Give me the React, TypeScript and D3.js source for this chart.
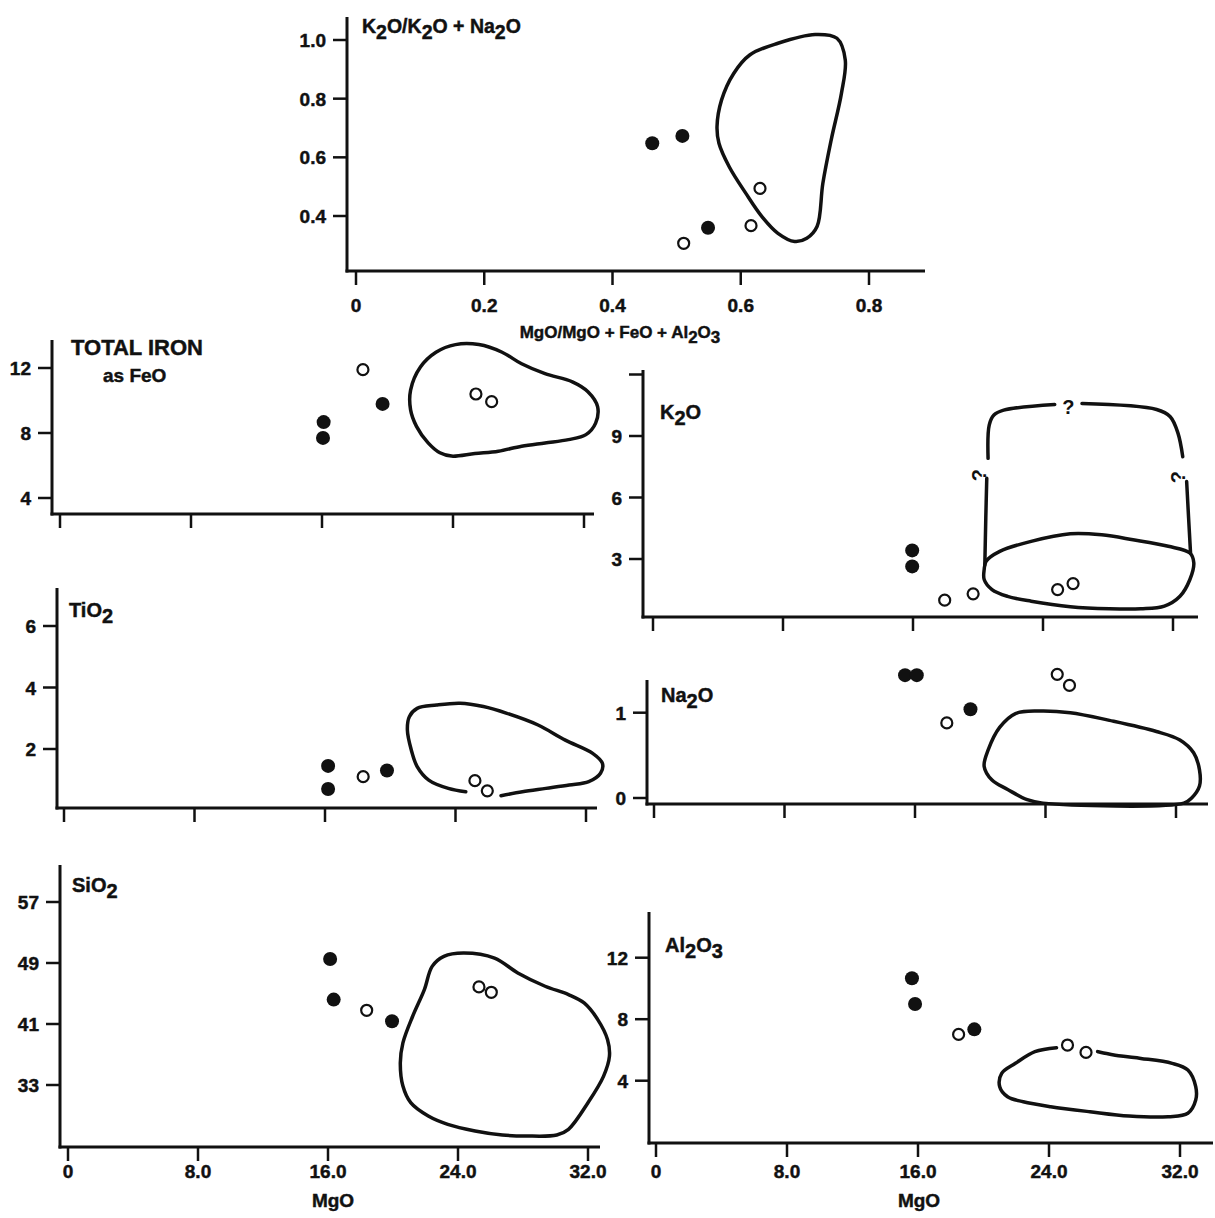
import React from 'react';
import * as d3 from 'd3';

type Pt = [number, number];

// ---------- Data ----------
// Top panel: MgO/(MgO+FeO+Al2O3) vs K2O/(K2O+Na2O)
const ratioXTicks = [0, 0.2, 0.4, 0.6, 0.8];
const ratioXTickLabels = ['0', '0.2', '0.4', '0.6', '0.8'];
const ratioYTicks = [0.4, 0.6, 0.8, 1.0];
const ratioYTickLabels = ['0.4', '0.6', '0.8', '1.0'];
const ratioFilled: Pt[] = [[0.462, 0.648], [0.509, 0.673], [0.549, 0.36]];
const ratioOpen: Pt[] = [[0.511, 0.307], [0.616, 0.367], [0.63, 0.494]];
const ratioEnvelope: Pt[] = [
  [0.563, 0.705], [0.57, 0.795], [0.589, 0.886], [0.614, 0.949], [0.658, 0.989],
  [0.716, 1.019], [0.75, 1.006], [0.763, 0.932], [0.757, 0.818], [0.741, 0.659],
  [0.728, 0.511], [0.719, 0.364], [0.703, 0.324], [0.684, 0.313], [0.658, 0.341],
  [0.633, 0.398], [0.608, 0.477], [0.582, 0.568], [0.566, 0.648],
];

// MgO axis shared by the six lower panels
const mgoTicks = [0, 8, 16, 24, 32];
const mgoTickLabels = ['0', '8.0', '16.0', '24.0', '32.0'];

// Total iron as FeO
const feoYTicks = [4, 8, 12];
const feoYTickLabels = ['4', '8', '12'];
const feoFilled: Pt[] = [[16.1, 8.67], [16.06, 7.7], [19.7, 9.79]];
const feoOpen: Pt[] = [[18.5, 11.9], [25.4, 10.4], [26.36, 9.93]];
const feoEnvelope: Pt[] = [
  [21.41, 10.64], [22.01, 12.06], [22.96, 12.97], [24.15, 13.44], [25.58, 13.44],
  [27.0, 12.97], [28.19, 12.26], [29.62, 11.65], [31.29, 11.15], [32.24, 10.54],
  [32.83, 9.62], [32.71, 8.61], [32.12, 7.9], [31.05, 7.59], [29.62, 7.39],
  [28.19, 7.19], [26.77, 6.88], [25.34, 6.74], [23.91, 6.58], [23.2, 6.78],
  [22.48, 7.39], [21.77, 8.41], [21.41, 9.42],
];

// K2O
const k2oYTicks = [3, 6, 9, 12];
const k2oYTickLabels = ['3', '6', '9', ''];
const k2oFilled: Pt[] = [[15.95, 3.42], [15.95, 2.64]];
const k2oOpen: Pt[] = [[17.95, 0.99], [19.7, 1.3], [24.9, 1.51], [25.85, 1.8]];
const k2oEnvelope: Pt[] = [
  [20.5, 2.89], [21.34, 3.37], [23.27, 3.86], [25.68, 4.23], [27.61, 4.18],
  [29.54, 3.94], [31.71, 3.62], [33.04, 3.29], [33.28, 2.81], [33.04, 2.0],
  [32.43, 1.18], [31.47, 0.7], [30.02, 0.57], [28.09, 0.57], [25.68, 0.67],
  [23.27, 0.94], [21.82, 1.18], [20.86, 1.51], [20.38, 2.0], [20.38, 2.48],
];
const k2oBracketLeftLow: Pt[] = [[20.42, 2.7], [20.48, 5.0], [20.54, 6.94]];
const k2oBracketLeftTop: Pt[] = [[20.62, 7.91], [20.69, 9.53], [20.98, 10.02], [21.58, 10.26], [24.72, 10.54]];
const k2oBracketRightTop: Pt[] = [[26.4, 10.58], [30.99, 10.29], [31.83, 9.94], [32.31, 9.13], [32.6, 7.99]];
const k2oBracketRightLow: Pt[] = [[32.84, 6.78], [32.96, 5.0], [33.08, 3.29]];
const k2oQueryTop: Pt = [25.56, 10.42];
const k2oQueryLeft: Pt = [20.5, 7.43];
const k2oQueryRight: Pt = [32.72, 7.34];

// TiO2
const tio2YTicks = [2, 4, 6];
const tio2YTickLabels = ['2', '4', '6'];
const tio2Filled: Pt[] = [[16.19, 1.45], [16.19, 0.7], [19.8, 1.3]];
const tio2Open: Pt[] = [[18.34, 1.1], [25.19, 0.97], [25.95, 0.64]];
const tio2Envelope: Pt[] = [
  [24.63, 0.61], [23.56, 0.72], [22.36, 0.99], [21.65, 1.43], [21.29, 1.97],
  [21.05, 2.62], [21.17, 3.05], [21.65, 3.32], [22.84, 3.43], [24.28, 3.49],
  [25.71, 3.38], [27.15, 3.16], [29.06, 2.78], [30.73, 2.29], [32.41, 1.86],
  [33.01, 1.53], [32.89, 1.21], [32.17, 0.94], [30.97, 0.83], [29.54, 0.72],
  [28.1, 0.61], [26.79, 0.48],
];

// Na2O
const na2oYTicks = [0, 1];
const na2oYTickLabels = ['0', '1'];
const na2oFilled: Pt[] = [[15.39, 1.44], [16.11, 1.44], [19.4, 1.04]];
const na2oOpen: Pt[] = [[17.95, 0.88], [24.72, 1.45], [25.47, 1.32]];
const na2oEnvelope: Pt[] = [
  [20.24, 0.37], [20.48, 0.56], [21.2, 0.83], [22.16, 0.99], [23.6, 1.02],
  [25.52, 1.0], [27.92, 0.91], [30.8, 0.78], [32.24, 0.68], [33.08, 0.53],
  [33.44, 0.33], [33.44, 0.14], [32.96, 0.0], [32.48, -0.06], [23.84, -0.06],
  [22.88, -0.02], [21.68, 0.1], [20.72, 0.21],
];

// SiO2
const sio2YTicks = [33, 41, 49, 57];
const sio2YTickLabels = ['33', '41', '49', '57'];
const sio2Filled: Pt[] = [[16.13, 49.52], [16.35, 44.2], [19.94, 41.36]];
const sio2Open: Pt[] = [[18.38, 42.8], [25.29, 45.86], [26.05, 45.16]];
const sio2Envelope: Pt[] = [
  [20.61, 38.53], [21.21, 42.02], [21.93, 45.51], [22.41, 48.56], [23.13, 49.87],
  [24.33, 50.31], [26.25, 49.65], [27.68, 47.69], [29.36, 45.95], [30.8, 44.86],
  [31.76, 43.76], [32.6, 41.58], [33.2, 38.97], [33.32, 36.78], [32.96, 34.17],
  [32.0, 30.68], [30.8, 27.19], [30.08, 26.44], [28.16, 26.31], [26.73, 26.44],
  [25.05, 26.97], [23.37, 27.84], [22.17, 28.93], [21.09, 30.68], [20.61, 32.86],
  [20.45, 35.91],
];

// Al2O3
const al2o3YTicks = [4, 8, 12];
const al2o3YTickLabels = ['4', '8', '12'];
const al2o3Filled: Pt[] = [[15.63, 10.66], [15.82, 8.99], [19.44, 7.34]];
const al2o3Open: Pt[] = [[18.48, 7.01], [25.13, 6.32], [26.26, 5.84]];
const al2o3Envelope: Pt[] = [
  [24.46, 6.15], [23.14, 5.89], [21.95, 5.13], [21.11, 4.48], [20.99, 3.61],
  [21.47, 2.96], [22.43, 2.63], [24.1, 2.31], [26.5, 1.98], [28.89, 1.7],
  [31.28, 1.66], [32.48, 1.88], [32.96, 2.74], [32.96, 3.61], [32.48, 4.69],
  [31.52, 5.13], [29.61, 5.45], [28.41, 5.6], [26.97, 5.89],
];

// ---------- Layout ----------
const FONT = '"Liberation Sans", Arial, sans-serif';
const INK = '#111';

interface Curve { pts: Pt[]; closed: boolean; }
interface Query { at: Pt; rotate: number; }
interface Panel {
  key: string;
  xDomain: [number, number]; xRange: [number, number];
  yDomain: [number, number]; yRange: [number, number];
  axisX: number; axisTop: number; axisY: number; axisRight: number;
  xTicks: number[]; xTickLabels?: string[]; xLabelY?: number;
  yTicks: number[]; yTickLabels: string[];
  title: string; titleX: number; titleY: number; titleSize: number;
  subtitle?: string; subX?: number; subY?: number;
  xTitle?: string; xTitleX?: number; xTitleY?: number; xTitleSize?: number;
  filled: Pt[]; open: Pt[];
  curves: Curve[]; queries?: Query[];
}

const panels: Panel[] = [
  {
    key: 'ratio', xDomain: [0, 0.8], xRange: [356, 869], yDomain: [0.4, 1.0], yRange: [216, 40],
    axisX: 347, axisTop: 17, axisY: 271, axisRight: 925,
    xTicks: ratioXTicks, xTickLabels: ratioXTickLabels, xLabelY: 312,
    yTicks: ratioYTicks, yTickLabels: ratioYTickLabels,
    title: 'K_2O/K_2O + Na_2O', titleX: 362, titleY: 33, titleSize: 19.5,
    xTitle: 'MgO/MgO + FeO + Al_2O_3', xTitleX: 620, xTitleY: 338, xTitleSize: 17,
    filled: ratioFilled, open: ratioOpen, curves: [{ pts: ratioEnvelope, closed: true }],
  },
  {
    key: 'feo', xDomain: [0, 32], xRange: [60, 584], yDomain: [4, 12], yRange: [498, 368],
    axisX: 52, axisTop: 340, axisY: 514, axisRight: 594,
    xTicks: mgoTicks, yTicks: feoYTicks, yTickLabels: feoYTickLabels,
    title: 'TOTAL IRON', titleX: 71, titleY: 355, titleSize: 22,
    subtitle: 'as FeO', subX: 103, subY: 382,
    filled: feoFilled, open: feoOpen, curves: [{ pts: feoEnvelope, closed: true }],
  },
  {
    key: 'k2o', xDomain: [0, 32], xRange: [653, 1173], yDomain: [3, 9], yRange: [559, 436],
    axisX: 643, axisTop: 370, axisY: 617, axisRight: 1198,
    xTicks: mgoTicks, yTicks: k2oYTicks, yTickLabels: k2oYTickLabels,
    title: 'K_2O', titleX: 660, titleY: 419, titleSize: 20,
    filled: k2oFilled, open: k2oOpen,
    curves: [
      { pts: k2oEnvelope, closed: true },
      { pts: k2oBracketLeftLow, closed: false },
      { pts: k2oBracketLeftTop, closed: false },
      { pts: k2oBracketRightTop, closed: false },
      { pts: k2oBracketRightLow, closed: false },
    ],
    queries: [
      { at: k2oQueryTop, rotate: 0 },
      { at: k2oQueryLeft, rotate: -90 },
      { at: k2oQueryRight, rotate: -90 },
    ],
  },
  {
    key: 'tio2', xDomain: [0, 32], xRange: [64, 586], yDomain: [2, 6], yRange: [749, 626],
    axisX: 57, axisTop: 588, axisY: 808, axisRight: 597,
    xTicks: mgoTicks, yTicks: tio2YTicks, yTickLabels: tio2YTickLabels,
    title: 'TiO_2', titleX: 69, titleY: 617, titleSize: 20,
    filled: tio2Filled, open: tio2Open, curves: [{ pts: tio2Envelope, closed: false }],
  },
  {
    key: 'na2o', xDomain: [0, 32], xRange: [654, 1176], yDomain: [0, 1], yRange: [798, 712.7],
    axisX: 647, axisTop: 680, axisY: 804, axisRight: 1208,
    xTicks: mgoTicks, yTicks: na2oYTicks, yTickLabels: na2oYTickLabels,
    title: 'Na_2O', titleX: 661, titleY: 702, titleSize: 20,
    filled: na2oFilled, open: na2oOpen, curves: [{ pts: na2oEnvelope, closed: true }],
  },
  {
    key: 'sio2', xDomain: [0, 32], xRange: [68, 588], yDomain: [33, 57], yRange: [1085, 902],
    axisX: 60, axisTop: 865, axisY: 1147, axisRight: 600,
    xTicks: mgoTicks, xTickLabels: mgoTickLabels, xLabelY: 1178,
    yTicks: sio2YTicks, yTickLabels: sio2YTickLabels,
    title: 'SiO_2', titleX: 72, titleY: 892, titleSize: 20,
    xTitle: 'MgO', xTitleX: 333, xTitleY: 1207, xTitleSize: 19,
    filled: sio2Filled, open: sio2Open, curves: [{ pts: sio2Envelope, closed: true }],
  },
  {
    key: 'al2o3', xDomain: [0, 32], xRange: [656, 1180], yDomain: [4, 12], yRange: [1080.7, 957.7],
    axisX: 649, axisTop: 912, axisY: 1143, axisRight: 1213,
    xTicks: mgoTicks, xTickLabels: mgoTickLabels, xLabelY: 1178,
    yTicks: al2o3YTicks, yTickLabels: al2o3YTickLabels,
    title: 'Al_2O_3', titleX: 665, titleY: 952, titleSize: 20,
    xTitle: 'MgO', xTitleX: 919, xTitleY: 1207, xTitleSize: 19,
    filled: al2o3Filled, open: al2o3Open, curves: [{ pts: al2o3Envelope, closed: false }],
  },
];

// ---------- Components ----------
const textStyle = { stroke: INK, strokeWidth: 0.45, paintOrder: 'stroke' as const };

function ChemText(props: { x: number; y: number; s: string; size: number; anchor?: string }) {
  const { x, y, s, size, anchor } = props;
  const parts = s.split(/(_\d)/).filter((p) => p.length > 0).map((p) =>
    p.startsWith('_') ? { t: p.slice(1), sub: true } : { t: p, sub: false });
  const shift = Math.round(size * 0.32);
  let cur = 0;
  return (
    <text x={x} y={y} fontSize={size} fontFamily={FONT} fontWeight="bold"
      textAnchor={anchor || 'start'} fill={INK} style={textStyle}>
      {parts.map((p, i) => {
        const target = p.sub ? shift : 0;
        const dy = target - cur;
        cur = target;
        return <tspan key={i} dy={dy}>{p.t}</tspan>;
      })}
    </text>
  );
}

function PanelView({ p }: { p: Panel }) {
  const xs = d3.scaleLinear().domain(p.xDomain).range(p.xRange);
  const ys = d3.scaleLinear().domain(p.yDomain).range(p.yRange);
  const closedLine = d3.line<Pt>().x((d) => xs(d[0])).y((d) => ys(d[1])).curve(d3.curveCatmullRomClosed.alpha(0.5));
  const openLine = d3.line<Pt>().x((d) => xs(d[0])).y((d) => ys(d[1])).curve(d3.curveCatmullRom.alpha(0.5));
  const tickLen = 14;
  return (
    <g>
      {/* axes */}
      <line x1={p.axisX} x2={p.axisX} y1={p.axisTop} y2={p.axisY + 1.5} stroke={INK} strokeWidth={3} />
      <line x1={p.axisX - 1.5} x2={p.axisRight} y1={p.axisY} y2={p.axisY} stroke={INK} strokeWidth={3} />
      {p.xTicks.map((t) => (
        <line key={'xt' + t} x1={xs(t)} x2={xs(t)} y1={p.axisY} y2={p.axisY + tickLen} stroke={INK} strokeWidth={2.5} />
      ))}
      {p.yTicks.map((t) => (
        <line key={'yt' + t} x1={p.axisX - tickLen} x2={p.axisX} y1={ys(t)} y2={ys(t)} stroke={INK} strokeWidth={2.5} />
      ))}
      {p.yTicks.map((t, i) => (
        <text key={'yl' + t} x={p.axisX - 21} y={ys(t) + 7} fontSize={19} fontFamily={FONT}
          fontWeight="bold" textAnchor="end" fill={INK} style={textStyle}>{p.yTickLabels[i]}</text>
      ))}
      {p.xTickLabels && p.xTicks.map((t, i) => (
        <text key={'xl' + t} x={xs(t)} y={p.xLabelY} fontSize={19} fontFamily={FONT}
          fontWeight="bold" textAnchor="middle" fill={INK} style={textStyle}>{p.xTickLabels![i]}</text>
      ))}
      <ChemText x={p.titleX} y={p.titleY} s={p.title} size={p.titleSize} />
      {p.subtitle && (
        <text x={p.subX} y={p.subY} fontSize={19} fontFamily={FONT} fontWeight="bold" fill={INK}
          style={textStyle}>{p.subtitle}</text>
      )}
      {p.xTitle && (
        <ChemText x={p.xTitleX!} y={p.xTitleY!} s={p.xTitle} size={p.xTitleSize!} anchor="middle" />
      )}
      {/* envelopes */}
      {p.curves.map((c, i) => (
        <path key={'c' + i} d={(c.closed ? closedLine : openLine)(c.pts) || ''} fill="none"
          stroke={INK} strokeWidth={3.5} strokeLinejoin="round" strokeLinecap="round" />
      ))}
      {p.queries && p.queries.map((q, i) => (
        <text key={'q' + i} x={0} y={0} fontSize={20} fontFamily={FONT} fontWeight="bold"
          textAnchor="middle" fill={INK}
          transform={`translate(${xs(q.at[0])},${ys(q.at[1]) + 7}) rotate(${q.rotate})`}>?</text>
      ))}
      {/* samples */}
      {p.filled.map((d, i) => (
        <circle key={'f' + i} cx={xs(d[0])} cy={ys(d[1])} r={7} fill={INK} />
      ))}
      {p.open.map((d, i) => (
        <circle key={'o' + i} cx={xs(d[0])} cy={ys(d[1])} r={5.5} fill="#fff" stroke={INK} strokeWidth={2.2} />
      ))}
    </g>
  );
}

export default function App() {
  return (
    <svg width={1215} height={1218} viewBox="0 0 1215 1218"
      style={{ position: 'absolute', left: 0, top: 0, background: '#fff' }}>
      <rect x={0} y={0} width={1215} height={1218} fill="#fff" />
      {panels.map((p) => <PanelView key={p.key} p={p} />)}
    </svg>
  );
}
